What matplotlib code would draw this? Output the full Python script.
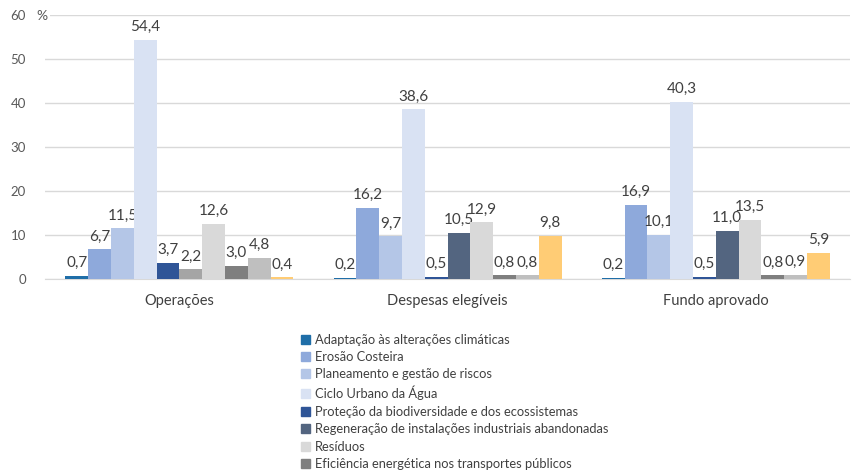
import matplotlib
matplotlib.use('Agg')
import matplotlib.pyplot as plt
from matplotlib.patches import Patch
import numpy as np

plt.rcParams['font.family'] = ['Lato', 'DejaVu Sans']

categories = ['Operações', 'Despesas elegíveis', 'Fundo aprovado']

series_names = [
    'Adaptação às alterações climáticas',
    'Erosão Costeira',
    'Planeamento e gestão de riscos',
    'Ciclo Urbano da Água',
    'Proteção da biodiversidade e dos ecossistemas',
    'Regeneração de instalações industriais abandonadas',
    'Resíduos',
    'Eficiência energética nos transportes públicos',
    None,
    None,
]

# one list per series: Operações, Despesas elegíveis, Fundo aprovado
adaptacao = [0.7, 0.2, 0.2]
erosao = [6.7, 16.2, 16.9]
planeamento = [11.5, 9.7, 10.1]
ciclo_agua = [54.4, 38.6, 40.3]
biodiversidade = [3.7, 0.5, 0.5]
regeneracao = [2.2, 10.5, 11.0]
residuos = [12.6, 12.9, 13.5]
eficiencia = [3.0, 0.8, 0.8]
serie_9 = [4.8, 0.8, 0.9]
serie_10 = [0.4, 9.8, 5.9]

values = [adaptacao, erosao, planeamento, ciclo_agua, biodiversidade,
          regeneracao, residuos, eficiencia, serie_9, serie_10]

colors = ['#1F6EA8', '#8EA9DB', '#B4C6E7', '#D9E2F3', '#2F5597',
          '#536580', '#D9D9D9', '#7F7F7F', '#BFBFBF', '#FFCC75']

fig = plt.figure(figsize=(8.55, 4.72), dpi=100)
ax = fig.add_axes([0.053, 0.409, 0.941, 0.559])

x = np.arange(len(categories))
w = 0.085
n = len(values)
for i, vals in enumerate(values):
    pos = x + (i - (n - 1) / 2) * w
    cols = [colors[i]] * len(vals)
    if i == 5:
        cols[0] = '#A5A5A5'  # drawn grey in the Operações group
    ax.bar(pos, vals, w, color=cols, zorder=3)
    for xx, v in zip(pos, vals):
        ax.text(xx, v + 1.3, f'{v:.1f}'.replace('.', ','), ha='center', va='bottom',
                fontsize=11, color='#404040')

ax.set_xlim(-0.5, 2.5)
ax.set_ylim(0, 60)
ax.set_yticks(np.arange(0, 61, 10))
ax.yaxis.grid(True, color='#D9D9D9', linewidth=1, zorder=0)
ax.set_axisbelow(True)
for s in ['top', 'right', 'left']:
    ax.spines[s].set_visible(False)
ax.spines['bottom'].set_color('#D9D9D9')
ax.tick_params(axis='y', length=0, labelsize=9.5, labelcolor='#595959', pad=14)
ax.tick_params(axis='x', length=0, labelsize=10.5, labelcolor='#404040', pad=11)
ax.set_xticks(x)
ax.set_xticklabels(categories)
ax.text(-0.011, 0.995, '%', transform=ax.transAxes, fontsize=10, color='#595959',
        ha='left', va='center', zorder=5,
        bbox=dict(facecolor='white', edgecolor='none', pad=1.5))

handles = [Patch(color=c) for c, nm in zip(colors, series_names) if nm]
labels = [nm for nm in series_names if nm]
fig.legend(handles, labels, loc='upper left', bbox_to_anchor=(0.344, 0.307),
           frameon=False, fontsize=9.3, labelcolor='#404040', handlelength=0.7,
           handleheight=0.7, handletextpad=0.4, labelspacing=0.42, borderpad=0)

fig.savefig('out.png', dpi=100)
